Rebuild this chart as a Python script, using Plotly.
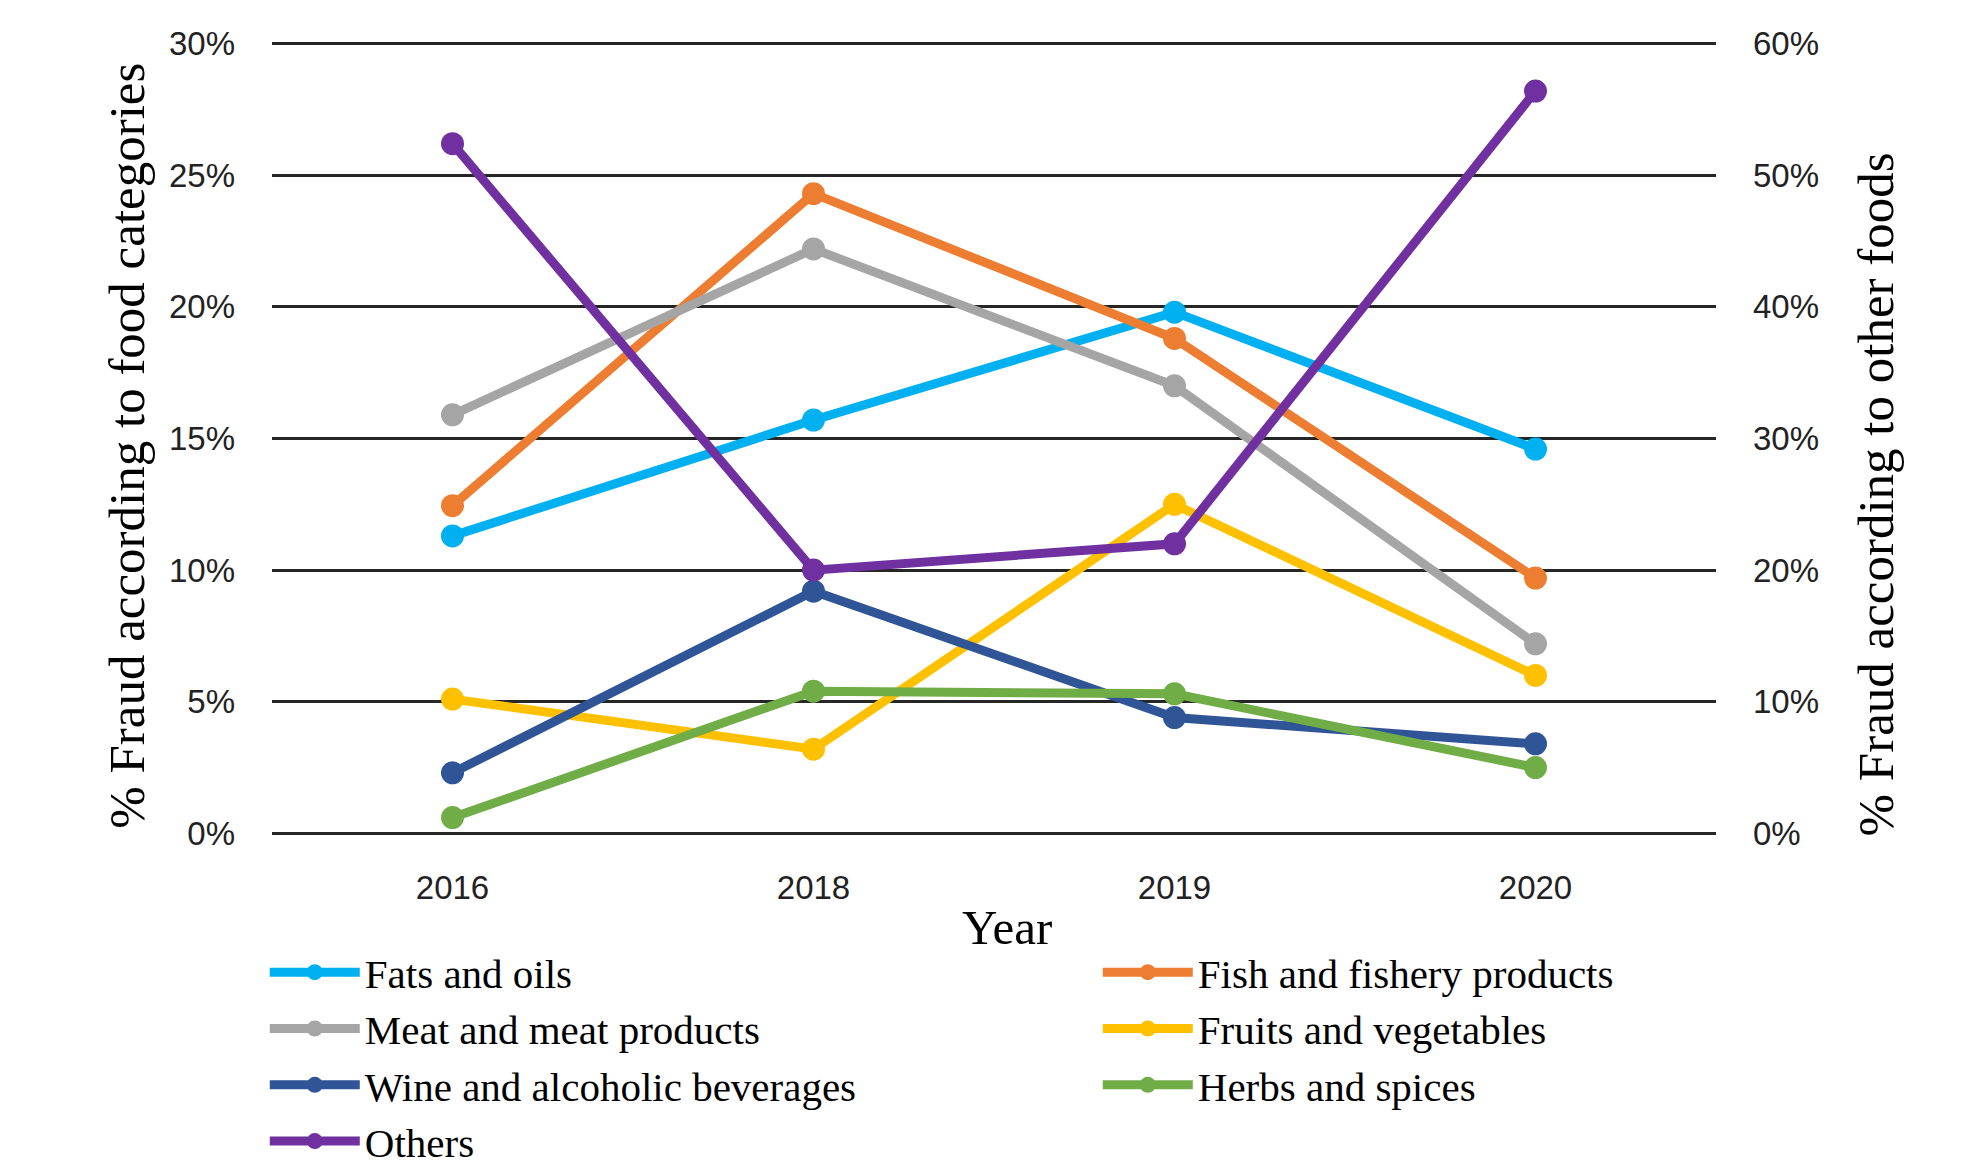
import plotly.graph_objects as go

years = ["2016", "2018", "2019", "2020"]

fats_oils = [11.3, 15.7, 19.8, 14.6]
fish_fishery = [12.45, 24.3, 18.8, 9.7]
meat_products = [15.9, 22.2, 17.0, 7.2]
fruits_vegetables = [5.1, 3.2, 12.5, 6.0]
wine_alcoholic = [2.3, 9.2, 4.4, 3.4]
herbs_spices = [0.6, 5.4, 5.3, 2.5]
others = [52.4, 20.0, 22.0, 56.4]  # right axis

left_ticks = [0, 5, 10, 15, 20, 25, 30]
left_labels = ["0%", "5%", "10%", "15%", "20%", "25%", "30%"]
right_ticks = [0, 10, 20, 30, 40, 50, 60]
right_labels = ["0%", "10%", "20%", "30%", "40%", "50%", "60%"]

series = [
    ("Fats and oils", fats_oils, "#00B0F0", "y"),
    ("Fish and fishery products", fish_fishery, "#ED7D31", "y"),
    ("Meat and meat products", meat_products, "#A5A5A5", "y"),
    ("Fruits and vegetables", fruits_vegetables, "#FFC000", "y"),
    ("Wine and alcoholic beverages", wine_alcoholic, "#2F5597", "y"),
    ("Herbs and spices", herbs_spices, "#70AD47", "y"),
    ("Others", others, "#7030A0", "y2"),
]

fig = go.Figure()
for name, vals, color, ax in series:
    fig.add_trace(go.Scatter(
        x=years, y=vals, name=name, yaxis=ax,
        mode="lines+markers",
        line=dict(color=color, width=9),
        marker=dict(color=color, size=23),
    ))

tick_font = dict(family="Liberation Sans", size=33, color="#222222")
title_font = dict(family="Liberation Serif", size=51, color="#000000")

fig.update_layout(
    width=1961, height=1169,
    margin=dict(l=272, r=245, t=41, b=333, autoexpand=False),
    paper_bgcolor="white", plot_bgcolor="white",
    showlegend=True,
    legend=dict(
        orientation="h",
        xref="paper", x=-0.005, xanchor="left",
        yref="paper", y=-0.1296, yanchor="top",
        font=dict(family="Liberation Serif", size=41, color="#000000"),
        entrywidth=728, entrywidthmode="pixels",
        itemwidth=90,
        tracegroupgap=0,
        traceorder="normal",
    ),
    xaxis=dict(
        type="category",
        range=[-0.5, 3.5],
        showgrid=False, zeroline=False, showline=False,
        tickfont=tick_font,
        ticklabelstandoff=29,
        automargin=False,
    ),
    yaxis=dict(
        range=[-0.1, 30.1],
        tickmode="array", tickvals=left_ticks, ticktext=left_labels,
        showgrid=True, gridcolor="#262626", gridwidth=2.5,
        zeroline=False, showline=False,
        tickfont=tick_font,
        ticklabelstandoff=36,
        automargin=False,
    ),
    yaxis2=dict(
        range=[-0.2, 60.2],
        tickmode="array", tickvals=right_ticks, ticktext=right_labels,
        overlaying="y", side="right",
        showgrid=False, zeroline=False, showline=False,
        tickfont=tick_font,
        ticklabelstandoff=36,
        automargin=False,
    ),
    annotations=[
        dict(text="% Fraud according to food categories", xref="paper", yref="paper",
             x=-0.101, y=0.491, xanchor="center", yanchor="middle", textangle=-90,
             showarrow=False, font=title_font),
        dict(text="% Fraud according to other foods", xref="paper", yref="paper",
             x=1.111, y=0.43, xanchor="center", yanchor="middle", textangle=-90,
             showarrow=False, font=title_font),
        dict(text="Year", xref="paper", yref="paper",
             x=0.509, y=-0.115, xanchor="center", yanchor="middle",
             showarrow=False, font=dict(family="Liberation Serif", size=49, color="#000000")),
    ],
)

fig.write_html("out.html")
